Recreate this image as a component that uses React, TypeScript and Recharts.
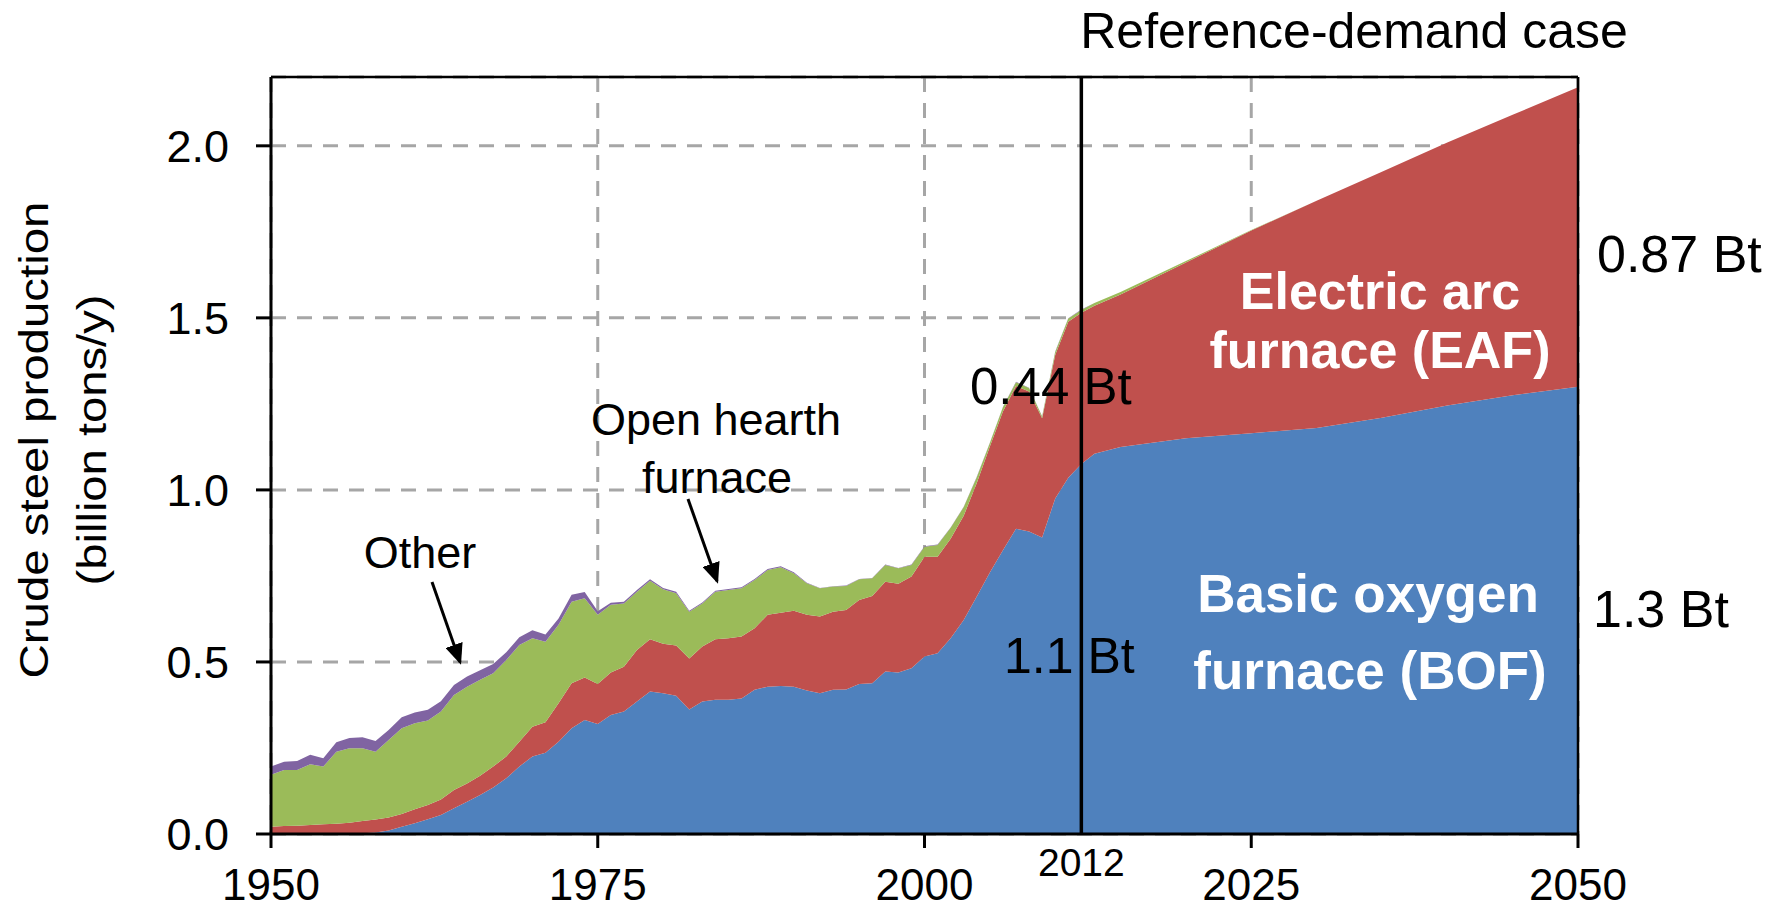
import React from 'react';
import { AreaChart, Area, XAxis, YAxis, CartesianGrid, ReferenceLine } from 'recharts';

const YEARS = [
  1950, 1951, 1952, 1953, 1954, 1955, 1956, 1957, 1958, 1959,
  1960, 1961, 1962, 1963, 1964, 1965, 1966, 1967, 1968, 1969,
  1970, 1971, 1972, 1973, 1974, 1975, 1976, 1977, 1978, 1979,
  1980, 1981, 1982, 1983, 1984, 1985, 1986, 1987, 1988, 1989,
  1990, 1991, 1992, 1993, 1994, 1995, 1996, 1997, 1998, 1999,
  2000, 2001, 2002, 2003, 2004, 2005, 2006, 2007, 2008, 2009,
  2010, 2011, 2012,
  2013, 2015, 2020, 2025, 2030, 2035, 2040, 2045, 2050,
];

// Basic oxygen furnace (billion tons/y)
const BOF = [
  0, 0, 0, 0, 0, 0, 0.001, 0.002, 0.004, 0.01,
  0.021, 0.031, 0.043, 0.055, 0.075, 0.094, 0.113, 0.135, 0.162, 0.196,
  0.225, 0.236, 0.268, 0.307, 0.331, 0.32, 0.346, 0.356, 0.385, 0.414,
  0.409, 0.402, 0.362, 0.385, 0.39, 0.39, 0.394, 0.419, 0.428, 0.43,
  0.428, 0.417, 0.409, 0.419, 0.42, 0.436, 0.438, 0.472, 0.469, 0.482,
  0.516, 0.525, 0.569, 0.622, 0.69, 0.76, 0.825, 0.887, 0.879, 0.862,
  0.975, 1.035, 1.075,
  1.105, 1.125, 1.15, 1.165, 1.18, 1.21, 1.245, 1.275, 1.3,
];

// Electric arc furnace
const EAF = [
  0.021, 0.023, 0.024, 0.026, 0.028, 0.03, 0.032, 0.036, 0.038, 0.038,
  0.037, 0.041, 0.041, 0.045, 0.053, 0.053, 0.056, 0.061, 0.063, 0.072,
  0.087, 0.089, 0.112, 0.131, 0.124, 0.116, 0.123, 0.13, 0.15, 0.152,
  0.144, 0.146, 0.148, 0.16, 0.176, 0.179, 0.18, 0.179, 0.209, 0.213,
  0.221, 0.22, 0.223, 0.227, 0.231, 0.244, 0.254, 0.261, 0.258, 0.266,
  0.29, 0.281, 0.289, 0.303, 0.33, 0.366, 0.403, 0.415, 0.407, 0.346,
  0.417, 0.454, 0.44,
  0.43, 0.443, 0.511, 0.589, 0.66, 0.715, 0.765, 0.815, 0.87,
];

// Open hearth furnace
const OHF = [
  0.151, 0.163, 0.162, 0.177, 0.168, 0.209, 0.216, 0.211, 0.197, 0.225,
  0.249, 0.25, 0.246, 0.256, 0.276, 0.281, 0.279, 0.271, 0.281, 0.281,
  0.257, 0.234, 0.228, 0.237, 0.23, 0.201, 0.197, 0.184, 0.169, 0.17,
  0.158, 0.152, 0.136, 0.125, 0.138, 0.14, 0.14, 0.14, 0.13, 0.132,
  0.109, 0.092, 0.082, 0.073, 0.07, 0.06, 0.051, 0.049, 0.045, 0.034,
  0.029, 0.034, 0.032, 0.025, 0.017, 0.01, 0.012, 0.011, 0.01, 0.005,
  0.009, 0.009, 0.008,
  0.008, 0.007, 0.004, 0.001, 0, 0, 0, 0, 0,
];

// Other
const OTHER = [
  0.024, 0.024, 0.026, 0.027, 0.024, 0.028, 0.03, 0.032, 0.031, 0.029,
  0.032, 0.031, 0.031, 0.03, 0.029, 0.03, 0.028, 0.027, 0.022, 0.023,
  0.023, 0.021, 0.018, 0.02, 0.018, 0.01, 0.006, 0.005, 0.005, 0.004,
  0.004, 0.004, 0.003, 0.003, 0.003, 0.003, 0.003, 0.003, 0.003, 0.003,
  0.003, 0.001, 0.001, 0.001, 0.001, 0.001, 0.001, 0.001, 0.001, 0.001,
  0.001, 0.001, 0.001, 0.001, 0.001, 0.001, 0.001, 0.001, 0.001, 0.001,
  0.001, 0.001, 0.001,
  0, 0, 0, 0, 0, 0, 0, 0, 0,
];

const X_TICKS = [1950, 1975, 2000, 2025, 2050];
const Y_TICKS = [0, 0.5, 1.0, 1.5, 2.0];
const BASE_YEAR = 2012;
const X_DOMAIN = [1950, 2050];
const Y_DOMAIN = [0, 2.2];

const data = YEARS.map((year, i) => ({
  year,
  bof: BOF[i],
  eaf: EAF[i],
  ohf: OHF[i],
  other: OTHER[i],
}));

const FONT = '"Liberation Sans", Arial, Helvetica, sans-serif';

const BaseYearLabel = (props: any) => {
  const vb = props && props.viewBox;
  if (!vb) return null;
  return (
    <text
      x={vb.x}
      y={vb.y + vb.height + 42}
      textAnchor="middle"
      fontSize={39}
      fontFamily={FONT}
      fill="#000"
    >
      {String(BASE_YEAR)}
    </text>
  );
};

export default function App() {
  return (
    <div
      style={{
        position: 'absolute',
        left: 0,
        top: 0,
        width: 1779,
        height: 911,
        background: '#fff',
        fontFamily: FONT,
        overflow: 'hidden',
      }}
    >
      <AreaChart
        width={1779}
        height={911}
        data={data}
        margin={{ top: 77, right: 201, bottom: 0, left: 0 }}
      >
        <CartesianGrid stroke="#A6A6A6" strokeWidth={3} strokeDasharray="15 11" />
        <XAxis
          dataKey="year"
          type="number"
          domain={X_DOMAIN}
          ticks={X_TICKS}
          interval={0}
          height={77}
          tickSize={14}
          tickMargin={21}
          axisLine={{ stroke: '#000', strokeWidth: 3 }}
          tickLine={{ stroke: '#000', strokeWidth: 3 }}
          tick={{ fill: '#000', fontSize: 44, fontFamily: FONT }}
        />
        <YAxis
          type="number"
          domain={Y_DOMAIN}
          ticks={Y_TICKS}
          interval={0}
          width={271}
          tickSize={15}
          tickMargin={27}
          tickFormatter={(v: number) => v.toFixed(1)}
          axisLine={{ stroke: '#000', strokeWidth: 3 }}
          tickLine={{ stroke: '#000', strokeWidth: 3 }}
          tick={{ fill: '#000', fontSize: 45, fontFamily: FONT }}
        />
        <Area
          type="linear"
          dataKey="bof"
          stackId="s"
          fill="#4F81BD"
          stroke="none"
          fillOpacity={1}
          isAnimationActive={false}
          dot={false}
          activeDot={false}
        />
        <Area
          type="linear"
          dataKey="eaf"
          stackId="s"
          fill="#C0504D"
          stroke="none"
          fillOpacity={1}
          isAnimationActive={false}
          dot={false}
          activeDot={false}
        />
        <Area
          type="linear"
          dataKey="ohf"
          stackId="s"
          fill="#9BBB59"
          stroke="none"
          fillOpacity={1}
          isAnimationActive={false}
          dot={false}
          activeDot={false}
        />
        <Area
          type="linear"
          dataKey="other"
          stackId="s"
          fill="#8064A2"
          stroke="none"
          fillOpacity={1}
          isAnimationActive={false}
          dot={false}
          activeDot={false}
        />
        <ReferenceLine y={Y_DOMAIN[1]} stroke="#000" strokeWidth={2.5} />
        <ReferenceLine x={X_DOMAIN[1]} stroke="#000" strokeWidth={2.5} />
        <ReferenceLine x={BASE_YEAR} stroke="#000" strokeWidth={3.5} label={BaseYearLabel} />
      </AreaChart>

      <svg
        width={1779}
        height={911}
        style={{ position: 'absolute', left: 0, top: 0, pointerEvents: 'none' }}
        fontFamily={FONT}
      >
        <defs>
          <marker
            id="arrowHead"
            markerWidth="7"
            markerHeight="6"
            refX="6"
            refY="3"
            orient="auto"
            markerUnits="strokeWidth"
          >
            <path d="M0,0 L7,3 L0,6 z" fill="#000" />
          </marker>
        </defs>

        {/* Y axis title */}
        <text
          x={34}
          y={440}
          transform="rotate(-90 34 440)"
          textAnchor="middle"
          dominantBaseline="central"
          fontSize={40}
          textLength={477}
          lengthAdjust="spacingAndGlyphs"
          fill="#000"
        >
          Crude steel production
        </text>
        <text
          x={92}
          y={440}
          transform="rotate(-90 92 440)"
          textAnchor="middle"
          dominantBaseline="central"
          fontSize={40}
          textLength={291}
          lengthAdjust="spacingAndGlyphs"
          fill="#000"
        >
          (billion tons/y)
        </text>

        {/* Title */}
        <text x={1354} y={48} textAnchor="middle" fontSize={50} fill="#000">
          Reference-demand case
        </text>

        {/* Value annotations */}
        <text x={1597} y={272} fontSize={52} fill="#000">0.87 Bt</text>
        <text x={1593} y={627} fontSize={52} fill="#000">1.3 Bt</text>
        <text x={970} y={404} fontSize={51} fill="#000">0.44 Bt</text>
        <text x={1004} y={673} fontSize={50} fill="#000">1.1 Bt</text>

        {/* Series labels */}
        <text x={1380} y={309} textAnchor="middle" fontSize={52} fontWeight="bold" fill="#fff">
          Electric arc
        </text>
        <text x={1380} y={368} textAnchor="middle" fontSize={52} fontWeight="bold" fill="#fff">
          furnace (EAF)
        </text>
        <text x={1368} y={612} textAnchor="middle" fontSize={53} fontWeight="bold" fill="#fff">
          Basic oxygen
        </text>
        <text x={1370} y={689} textAnchor="middle" fontSize={53} fontWeight="bold" fill="#fff">
          furnace (BOF)
        </text>

        <text x={716} y={435} textAnchor="middle" fontSize={45} fill="#000">Open hearth</text>
        <text x={717} y={493} textAnchor="middle" fontSize={45} fill="#000">furnace</text>
        <text x={420} y={568} textAnchor="middle" fontSize={45} fill="#000">Other</text>

        {/* Arrows */}
        <line
          x1={432}
          y1={582}
          x2={460}
          y2={662}
          stroke="#000"
          strokeWidth={3}
          markerEnd="url(#arrowHead)"
        />
        <line
          x1={688}
          y1={499}
          x2={717}
          y2={581}
          stroke="#000"
          strokeWidth={3}
          markerEnd="url(#arrowHead)"
        />
      </svg>
    </div>
  );
}
